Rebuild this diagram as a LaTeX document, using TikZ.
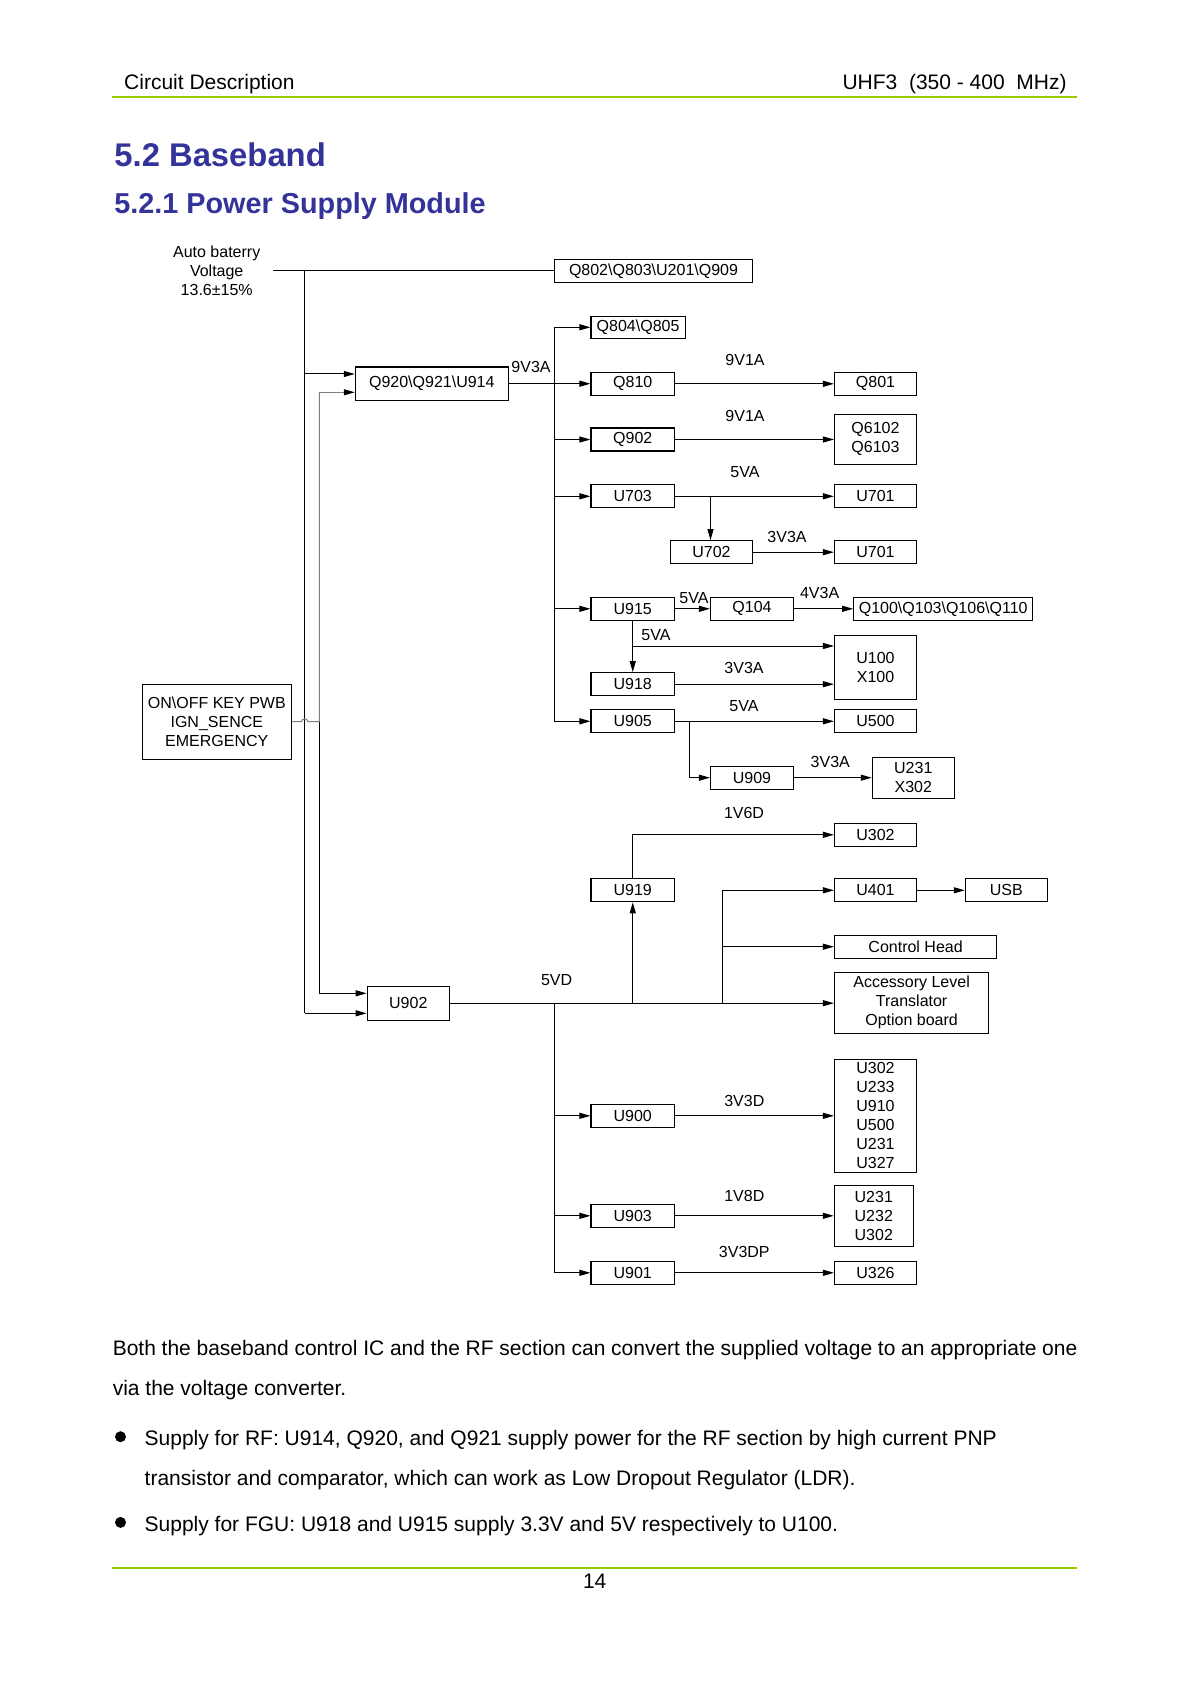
\documentclass[tikz,border=0pt]{standalone}
\usepackage{fontspec}
\setmainfont{Liberation Sans}
\usetikzlibrary{arrows.meta}
\definecolor{hdrgreen}{RGB}{153,204,0}
\definecolor{ttlblue}{RGB}{51,51,153}
\newcommand{\bs}{\textbackslash}
\begin{document}
\begin{tikzpicture}[x=0.5pt,y=-0.5pt,
  every node/.style={font=\fontsize{8pt}{9.5pt}\selectfont, inner sep=0pt},
  blk/.style={draw, line width=0.55pt, align=center, minimum height=11.5pt},
  colA/.style={blk, minimum width=41.75pt},
  colB/.style={blk, minimum width=41pt},
  wire/.style={line width=0.5pt},
  arr/.style={wire, -{Triangle[length=5.5pt,width=3pt,color=black]}},
  hdr/.style={font=\fontsize{10.5pt}{12pt}\selectfont},
  ttl/.style={text=ttlblue, anchor=base west},
  body/.style={font=\fontsize{10.5pt}{12pt}\selectfont, anchor=base west}]
\fill[white] (0,0) rectangle (1191,1684);
\useasboundingbox (0,0) rectangle (1191,1684);

% header
\node[hdr, anchor=base west] (hl) at (123.8,90) {Circuit Description};
\node[hdr, anchor=base east] (hr) at (1067,90) {UHF3\ \ (350 - 400\ \ MHz)};
\draw[hdrgreen, line width=1pt] (112.4,96.7) -- (1077,96.7);
\node[ttl, font=\fontsize{16.4pt}{19pt}\selectfont\bfseries] (t1) at (114,166.7) {5.2 Baseband};
\node[ttl, font=\fontsize{14.4pt}{17pt}\selectfont\bfseries] (t2) at (114,213.3) {5.2.1 Power Supply Module};

% boxes
\node[align=center] (bat) at (216.7,270.3) {Auto baterry\\Voltage\\13.6±15\%};
\node[blk, minimum width=99.15pt] (q802) at (653.5,270.8) {Q802\bs Q803\bs U201\bs Q909};
\node[blk, minimum width=47.1pt, minimum height=11pt] (q804) at (638.1,327.3) {Q804\bs Q805};
\node[blk, minimum width=76.5pt, minimum height=16.65pt] (q920) at (431.8,383.7) {Q920\bs Q921\bs U914};
\node[colA] (q810) at (632.75,383.8) {Q810};
\node[colB] (q801) at (875.5,383.8) {Q801};
\node[colA] (q902) at (632.75,439.5) {Q902};
\node[colB, minimum height=25pt] (q6102) at (875.5,439.3) {Q6102\\Q6103};
\node[colA] (u703) at (632.75,496.3) {U703};
\node[colB] (u701a) at (875.5,496.3) {U701};
\node[blk, minimum width=41.15pt] (u702) at (711.5,552.2) {U702};
\node[colB] (u701b) at (875.5,552.2) {U701};
\node[colA] (u915) at (632.75,608.8) {U915};
\node[blk, minimum width=41.5pt] (q104) at (752,608.8) {Q104};
\node[blk, minimum width=89.5pt] (q100) at (943.2,608.8) {Q100\bs Q103\bs Q106\bs Q110};
\node[colB, minimum height=32pt] (u100) at (875.5,667.3) {U100\\X100};
\node[colA] (u918) at (632.75,684.2) {U918};
\node[colA] (u905) at (632.75,721.3) {U905};
\node[colB] (u500) at (875.5,721.3) {U500};
\node[blk, minimum width=41.5pt] (u909) at (752,777.7) {U909};
\node[colB, minimum height=20.5pt] (u231x) at (913.3,777.8) {U231\\X302};
\node[colB] (u302a) at (875.5,834.8) {U302};
\node[colA] (u919) at (632.75,890.3) {U919};
\node[colB] (u401) at (875.5,890.3) {U401};
\node[colB] (usb) at (1006.3,890.3) {USB};
\node[blk, minimum width=81.1pt] (ctrl) at (915.6,946.7) {Control Head};
\node[blk, minimum width=77.1pt, minimum height=30.5pt] (acc) at (911.6,1002.8) {Accessory Level\\Translator\\Option board};
\node[blk, minimum width=41.15pt, minimum height=16.85pt] (u902) at (408.3,1003.2) {U902};
\node[blk, minimum width=74.65pt, minimum height=37.65pt] (onoff) at (216.8,721.7) {ON\bs OFF KEY PWB\\IGN\_SENCE\\EMERGENCY};
\node[colA] (u900) at (632.75,1115.8) {U900};
\node[colB, minimum height=56.5pt] (u302l) at (875.5,1115.8) {U302\\U233\\U910\\U500\\U231\\U327};
\node[colA] (u903) at (632.75,1215.8) {U903};
\node[blk, minimum width=39.5pt, minimum height=30.5pt] (u231l) at (873.8,1215.8) {U231\\U232\\U302};
\node[colA] (u901) at (632.75,1272.8) {U901};
\node[colB] (u326) at (875.5,1272.8) {U326};

% labels
\node (l9v3a) at (531,367.3) {9V3A};
\node (l9v1a) at (745,360.3) {9V1A};
\node (l9v1b) at (745,415.7) {9V1A};
\node (l5va) at (745,472.3) {5VA};
\node (l3v3a) at (787,536.7) {3V3A};
\node (l5vb) at (694,598.3) {5VA};
\node (l4v3a) at (819.6,592.7) {4V3A};
\node (l5vc) at (656,635.3) {5VA};
\node (l3v3b) at (744,668) {3V3A};
\node (l5vd) at (744,706) {5VA};
\node (l3v3c) at (830.3,761.7) {3V3A};
\node (l1v6d) at (744,813.3) {1V6D};
\node (l5vdd) at (556.6,980) {5VD};
\node (l3v3d) at (744.3,1101) {3V3D};
\node (l1v8d) at (744.3,1196) {1V8D};
\node (l3v3dp) at (744.3,1252) {3V3DP};

% battery trunk
\coordinate (batw) at (273,270.8);
\coordinate (tr) at (304.7,270.8);
\coordinate (trq) at (304.7,374);
\coordinate (trb) at (304.7,1013.3);
\draw[wire] (batw) -- (q802.west);
\draw[wire] (tr) -- (trb);
\draw[arr] (trq) -- (trq -| q920.west);
\draw[arr] (trb) -- (trb -| u902.west);

% on/off signal
\coordinate (g0) at (319.3,721.7);
\coordinate (g1) at (319.3,392.3);
\coordinate (g2) at (319.3,993.3);
\draw[wire, gray] (onoff.east |- g0) -- (301.5,721.7) .. controls (301.5,718) and (307.9,718) .. (307.9,721.7) -- (g0) -- (g1);
\draw[arr, gray] (g1) -- (g1 -| q920.west);
\draw[wire] (g0) -- (g2);
\draw[arr] (g2) -- (g2 -| u902.west);

% 9V3A bus
\coordinate (bus9) at (554.3,0);
\draw[arr] (q920.east) -- (q920.east -| q810.west);
\draw[wire] (q804.west -| bus9) -- (u905.west -| bus9);
\foreach \n in {q804,q902,u703,u915,u905} \draw[arr] (\n.west -| bus9) -- (\n.west);

\draw[arr] (q810) -- (q801);
\draw[arr] (q902.east) -- (q902.east -| q6102.west);
\draw[arr] (u703) -- (u701a);
\coordinate (j702) at (710.5,496.3);
\draw[arr] (j702) -- (j702 |- u702.north);
\draw[arr] (u702) -- (u701b);
\draw[arr] (u915) -- (q104);
\draw[arr] (q104) -- (q100);
\draw[arr] (u915.south) -- (u918.north);
\coordinate (j915) at (632.75,646);
\draw[arr] (j915) -- (j915 -| u100.west);
\draw[arr] (u918.east) -- (u918.east -| u100.west);
\draw[arr] (u905) -- (u500);
\coordinate (j905) at (689.4,721.3);
\draw[arr] (j905) |- (u909.west);
\draw[arr] (u909.east) -- (u909.east -| u231x.west);

% 5VD
\draw[arr] (u919.north) |- (u302a.west);
\draw[arr] (u902.east) -- (u902.east -| acc.west);
\draw[arr] (u902.east -| u919.south) -- (u919.south);
\coordinate (j401) at (722.4,0);
\draw[wire] (u902.east -| j401) -- (u401.west -| j401);
\draw[arr] (u401.west -| j401) -- (u401.west);
\draw[arr] (ctrl.west -| j401) -- (ctrl.west);
\draw[arr] (u401) -- (usb);
\coordinate (bus5) at (554.3,0);
\draw[wire] (u902.east -| bus5) -- (u901.west -| bus5);
\foreach \n in {u900,u903,u901} \draw[arr] (\n.west -| bus5) -- (\n.west);
\draw[arr] (u900) -- (u302l);
\draw[arr] (u903) -- (u231l);
\draw[arr] (u901) -- (u326);

% body text
\node[body] (p1) at (112.4,1355) {\makebox[482.3pt][s]{Both the baseband control IC and the RF section can convert the supplied voltage to an appropriate one}};
\node[body] (p2) at (112.4,1395) {via the voltage converter.};
\fill (120.5,1436.7) circle[radius=2.75pt];
\node[body] (p3) at (144.3,1445) {Supply for RF: U914, Q920, and Q921 supply power for the RF section by high current PNP};
\node[body] (p4) at (144.3,1485) {transistor and comparator, which can work as Low Dropout Regulator (LDR).};
\fill (120.5,1522.4) circle[radius=2.75pt];
\node[body] (p5) at (144.3,1531) {Supply for FGU: U918 and U915 supply 3.3V and 5V respectively to U100.};

% footer
\draw[hdrgreen, line width=1pt] (112.4,1567.7) -- (1077,1567.7);
\node[hdr, anchor=base] (pg) at (594.7,1588) {14};
\end{tikzpicture}
\end{document}
